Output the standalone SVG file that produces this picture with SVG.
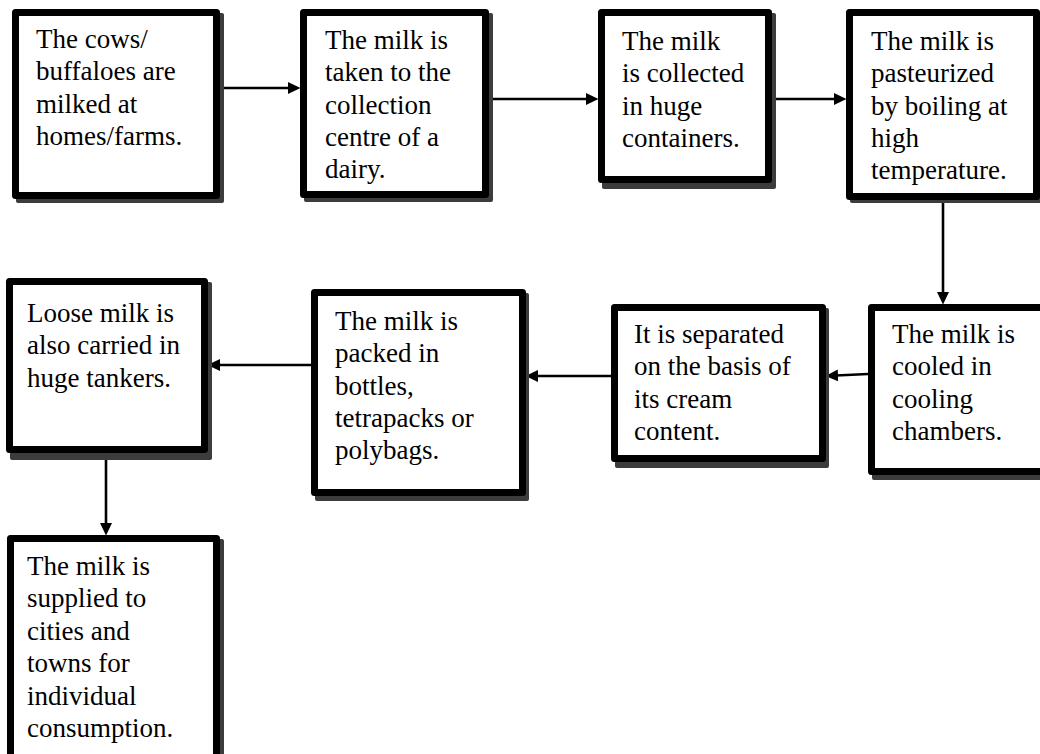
<svg xmlns="http://www.w3.org/2000/svg" width="1040" height="754" viewBox="0 0 1040 754">
<style>
.shadow{fill:#3c3c3c}
.box{fill:#fff;stroke:#000;stroke-width:7;stroke-linejoin:round}
.t{font-family:"Liberation Serif","Times New Roman",serif;font-size:27px;fill:#000}
.c{stroke:#000;stroke-width:2.6;fill:none}
</style>
<defs>
<marker id="ah" markerUnits="userSpaceOnUse" markerWidth="13" markerHeight="13" refX="2" refY="6.5" orient="auto" viewBox="0 0 13 13">
<path d="M0,0.5 L12.5,6.5 L0,12.5 z" fill="#000"/>
</marker>
</defs>
<rect width="1040" height="754" fill="#fff"/>
<g id="connectors">
<path class="c" d="M220,88 H290" marker-end="url(#ah)"/>
<path class="c" d="M489,99 H588" marker-end="url(#ah)"/>
<path class="c" d="M772,99 H836" marker-end="url(#ah)"/>
<path class="c" d="M943,203 V294" marker-end="url(#ah)"/>
<path class="c" d="M868,374 L836,375.5" marker-end="url(#ah)"/>
<path class="c" d="M611,376 H536" marker-end="url(#ah)"/>
<path class="c" d="M311,365 H218" marker-end="url(#ah)"/>
<path class="c" d="M106,453 V525" marker-end="url(#ah)"/>
</g>
<g id="n1">
<rect class="shadow" x="16" y="13" width="208" height="190" rx="2"/>
<rect class="box" x="15.5" y="12.5" width="201" height="183"/>
<text class="t" x="36" y="48"><tspan x="36">The cows/</tspan><tspan x="36" dy="32.3">buffaloes are</tspan><tspan x="36" dy="32.3">milked at</tspan><tspan x="36" dy="32.3">homes/farms.</tspan></text>
</g>
<g id="n2">
<rect class="shadow" x="304" y="13" width="189" height="189" rx="2"/>
<rect class="box" x="303.5" y="12.5" width="182" height="182"/>
<text class="t" x="325" y="49"><tspan x="325">The milk is</tspan><tspan x="325" dy="32.3">taken to the</tspan><tspan x="325" dy="32.3">collection</tspan><tspan x="325" dy="32.3">centre of a</tspan><tspan x="325" dy="32.3">dairy.</tspan></text>
</g>
<g id="n3">
<rect class="shadow" x="602" y="13" width="174" height="176" rx="2"/>
<rect class="box" x="601.5" y="12.5" width="167" height="167"/>
<text class="t" x="622" y="50"><tspan x="622">The milk</tspan><tspan x="622" dy="32.3">is collected</tspan><tspan x="622" dy="32.3">in huge</tspan><tspan x="622" dy="32.3">containers.</tspan></text>
</g>
<g id="n4">
<rect class="shadow" x="850" y="13" width="200" height="190" rx="2"/>
<rect class="box" x="849.5" y="12.5" width="187" height="184"/>
<text class="t" x="871" y="50"><tspan x="871">The milk is</tspan><tspan x="871" dy="32.3">pasteurized</tspan><tspan x="871" dy="32.3">by boiling at</tspan><tspan x="871" dy="32.3">high</tspan><tspan x="871" dy="32.3">temperature.</tspan></text>
</g>
<g id="n5">
<rect class="shadow" x="872" y="308" width="190" height="172" rx="2"/>
<rect class="box" x="871.5" y="307.5" width="180" height="164"/>
<text class="t" x="892" y="343"><tspan x="892">The milk is</tspan><tspan x="892" dy="32.3">cooled in</tspan><tspan x="892" dy="32.3">cooling</tspan><tspan x="892" dy="32.3">chambers.</tspan></text>
</g>
<g id="n6">
<rect class="shadow" x="615" y="308" width="214" height="160" rx="2"/>
<rect class="box" x="614.5" y="307.5" width="208" height="151"/>
<text class="t" x="634" y="343"><tspan x="634">It is separated</tspan><tspan x="634" dy="32.3">on the basis of</tspan><tspan x="634" dy="32.3">its cream</tspan><tspan x="634" dy="32.3">content.</tspan></text>
</g>
<g id="n7">
<rect class="shadow" x="315" y="293" width="214" height="208" rx="2"/>
<rect class="box" x="314.5" y="292.5" width="208" height="200"/>
<text class="t" x="335" y="330"><tspan x="335">The milk is</tspan><tspan x="335" dy="32.3">packed in</tspan><tspan x="335" dy="32.3">bottles,</tspan><tspan x="335" dy="32.3">tetrapacks or</tspan><tspan x="335" dy="32.3">polybags.</tspan></text>
</g>
<g id="n8">
<rect class="shadow" x="10" y="282" width="202" height="178" rx="2"/>
<rect class="box" x="9.5" y="281.5" width="195" height="168"/>
<text class="t" x="27" y="322"><tspan x="27">Loose milk is</tspan><tspan x="27" dy="32.3">also carried in</tspan><tspan x="27" dy="32.3">huge tankers.</tspan></text>
</g>
<g id="n9">
<rect class="shadow" x="11" y="539" width="213" height="260" rx="2"/>
<rect class="box" x="10.5" y="538.5" width="206" height="250"/>
<text class="t" x="27" y="575"><tspan x="27">The milk is</tspan><tspan x="27" dy="32.4">supplied to</tspan><tspan x="27" dy="32.4">cities and</tspan><tspan x="27" dy="32.4">towns for</tspan><tspan x="27" dy="32.4">individual</tspan><tspan x="27" dy="32.4">consumption.</tspan></text>
</g>
</svg>
